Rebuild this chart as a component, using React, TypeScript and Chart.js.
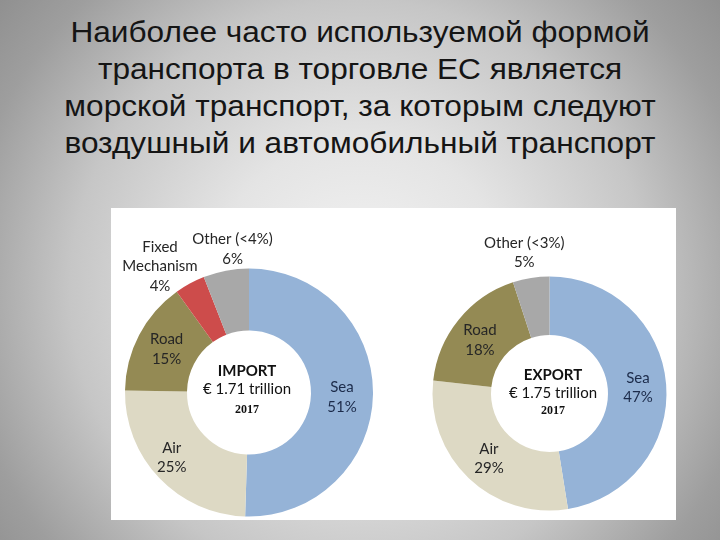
import React, { useEffect, useRef } from 'react';
import { Chart, registerables } from 'chart.js';

Chart.register(...registerables);

const titleLines = [
  'Наиболее часто используемой формой',
  'транспорта в торговле ЕС является',
  'морской транспорт, за которым следуют',
  'воздушный и автомобильный транспорт',
];

const importCategories = ['Sea', 'Air', 'Road', 'Fixed Mechanism', 'Other'];
const importLabelNames = [['Sea'], ['Air'], ['Road'], ['Fixed', 'Mechanism'], ['Other (<4%)']];
const importValues = [51, 25, 15, 4, 6];
const importCenterText = ['IMPORT', '€ 1.71 trillion', '2017'];

const exportCategories = ['Sea', 'Air', 'Road', 'Other'];
const exportLabelNames = [['Sea'], ['Air'], ['Road'], ['Other (<3%)']];
const exportValues = [47, 29, 18, 5];
const exportCenterText = ['EXPORT', '€ 1.75 trillion', '2017'];

const categoryColors: Record<string, string> = {
  Sea: '#95B3D7',
  Air: '#DDD9C4',
  Road: '#948A54',
  'Fixed Mechanism': '#CD4C4B',
  Other: '#A8A8A8',
};

// label placement: radius factor of outer radius along the arc's mid-angle, plus a nudge
const importLabelLayout = [
  { r: 0.75, dx: 0, dy: 3 },
  { r: 0.75, dx: -10, dy: 1 },
  { r: 0.75, dx: 0, dy: 0 },
  { r: 1.25, dx: -15, dy: 10 },
  { r: 1.15, dx: 10, dy: -3 },
];
const exportLabelLayout = [
  { r: 0.75, dx: 1, dy: 1 },
  { r: 0.75, dx: 0, dy: 1.5 },
  { r: 0.75, dx: -1.5, dy: 2 },
  { r: 1.15, dx: -4, dy: -8 },
];

function makeLabelPlugin(
  names: string[][],
  values: number[],
  categories: string[],
  layout: { r: number; dx: number; dy: number }[],
  centerText: string[],
  centerDx: number,
  centerDy: number[]
) {
  return {
    id: 'segLabels',
    afterDatasetsDraw(chart: any) {
      const ctx = chart.ctx as CanvasRenderingContext2D;
      const meta = chart.getDatasetMeta(0);
      ctx.save();
      ctx.textAlign = 'center';
      ctx.textBaseline = 'middle';
      let cX = 0;
      let cY = 0;
      meta.data.forEach((arc: any, i: number) => {
        const p = arc.getProps(['x', 'y', 'startAngle', 'endAngle', 'outerRadius'], true);
        cX = p.x;
        cY = p.y;
        const mid = (p.startAngle + p.endAngle) / 2;
        const lay = layout[i];
        const lx = p.x + Math.cos(mid) * p.outerRadius * lay.r + lay.dx;
        const ly = p.y + Math.sin(mid) * p.outerRadius * lay.r + lay.dy;
        const lines = [...names[i], values[i] + '%'];
        ctx.font = '15px Lato, "Open Sans", sans-serif';
        ctx.fillStyle = categories[i] === 'Sea' ? '#1C2B4A' : '#262626';
        const lh = 19.5;
        lines.forEach((t, k) => {
          ctx.fillText(t, lx, ly - ((lines.length - 1) * lh) / 2 + k * lh);
        });
      });
      // center text
      ctx.fillStyle = '#111111';
      ctx.font = 'bold 15px Lato, "Open Sans", sans-serif';
      ctx.fillText(centerText[0], cX + centerDx, cY + centerDy[0]);
      ctx.font = '15px Lato, "Open Sans", sans-serif';
      ctx.fillText(centerText[1], cX + centerDx, cY + centerDy[1]);
      ctx.font = 'bold 12px "Liberation Serif", "DejaVu Serif", serif';
      ctx.fillText(centerText[2], cX + centerDx, cY + centerDy[2]);
      ctx.restore();
    },
  };
}

function makeConfig(
  categories: string[],
  values: number[],
  padding: { left: number; right: number; top: number; bottom: number },
  plugin: any
): any {
  return {
    type: 'doughnut',
    data: {
      labels: categories,
      datasets: [
        {
          data: values,
          backgroundColor: categories.map((c) => categoryColors[c]),
          borderWidth: 0,
        },
      ],
    },
    options: {
      responsive: false,
      animation: false,
      events: [],
      devicePixelRatio: 1,
      cutout: '50%',
      layout: { padding },
      plugins: {
        legend: { display: false },
        tooltip: { enabled: false },
        title: { display: false },
      },
    },
    plugins: [plugin],
  };
}

export default function App() {
  const ref1 = useRef<HTMLCanvasElement>(null);
  const ref2 = useRef<HTMLCanvasElement>(null);

  useEffect(() => {
    document.body.style.margin = '0';
    const c1 = new Chart(
      ref1.current as HTMLCanvasElement,
      makeConfig(
        importCategories,
        importValues,
        { left: 125, right: 347, top: 268.5, bottom: 23.5 },
        makeLabelPlugin(importLabelNames, importValues, importCategories, importLabelLayout, importCenterText, -2, [-21, -3, 17.5])
      )
    );
    const c2 = new Chart(
      ref2.current as HTMLCanvasElement,
      makeConfig(
        exportCategories,
        exportValues,
        { left: 432.5, right: 53.5, top: 276.5, bottom: 29.5 },
        makeLabelPlugin(exportLabelNames, exportValues, exportCategories, exportLabelLayout, exportCenterText, 3.5, [-18.5, -0.5, 17.5])
      )
    );
    return () => {
      c1.destroy();
      c2.destroy();
    };
  }, []);

  const abs: React.CSSProperties = { position: 'absolute', left: 0, top: 0, width: 720, height: 540 };

  return (
    <div
      style={{
        position: 'relative',
        width: 720,
        height: 540,
        overflow: 'hidden',
        background:
          'radial-gradient(circle at 360px 290px, #f4f4f4 0px, #e4e4e4 150px, #c6c6c6 290px, #9e9e9e 400px, #8c8c8c 480px)',
      }}
    >
      <div
        style={{
          position: 'absolute',
          top: 14,
          left: 0,
          width: 720,
          textAlign: 'center',
          fontFamily: '"Liberation Sans", Arial, sans-serif',
          fontSize: 29,
          lineHeight: '37px',
          color: '#151515',
          transform: 'scaleX(1.09)',
          transformOrigin: '360px 0px',
        }}
      >
        {titleLines.map((t, i) => (
          <div key={i}>{t}</div>
        ))}
      </div>
      <div style={{ position: 'absolute', left: 111, top: 208, width: 565, height: 312, background: '#ffffff' }} />
      <canvas ref={ref1} width={720} height={540} style={abs} />
      <canvas ref={ref2} width={720} height={540} style={abs} />
    </div>
  );
}
